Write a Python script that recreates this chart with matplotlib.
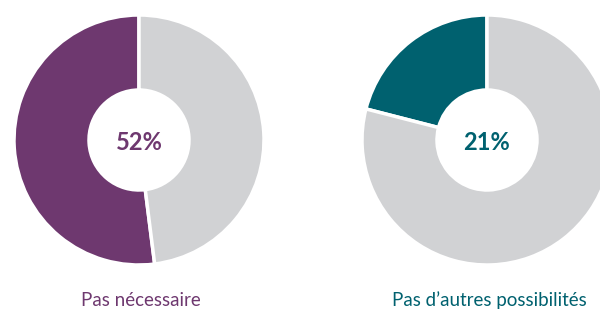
import matplotlib.pyplot as plt

labels = ['Pas nécessaire', "Pas d\u2019autres possibilités"]
shares = [52, 21]
colors = ['#6e386f', '#00616f']
rest_color = '#d1d2d4'
centers_px = [(139, 140), (487, 140)]

plt.rcParams['font.family'] = ['Lato', 'DejaVu Sans']

fig = plt.figure(figsize=(6, 3.09), dpi=100)
ax = fig.add_axes([0, 0, 1, 1])
H = 309

for lab, v, c, (cx, cy) in zip(labels, shares, colors, centers_px):
    ax.pie([v, 100 - v], colors=[c, rest_color], startangle=90, counterclock=True,
           center=(cx, H - cy), radius=125, frame=True,
           wedgeprops=dict(width=75, edgecolor='white', linewidth=2.5))
    ax.text(cx, H - 142, f'{v}%', ha='center', va='center', fontsize=17,
            fontweight='bold', color=c)
    ax.text(cx + 2, H - 300, lab, ha='center', va='center', fontsize=13.5, color=c)

ax.set_xlim(0, 600)
ax.set_ylim(0, H)
ax.set_aspect('equal')
ax.axis('off')
fig.savefig('out.png', dpi=100)
